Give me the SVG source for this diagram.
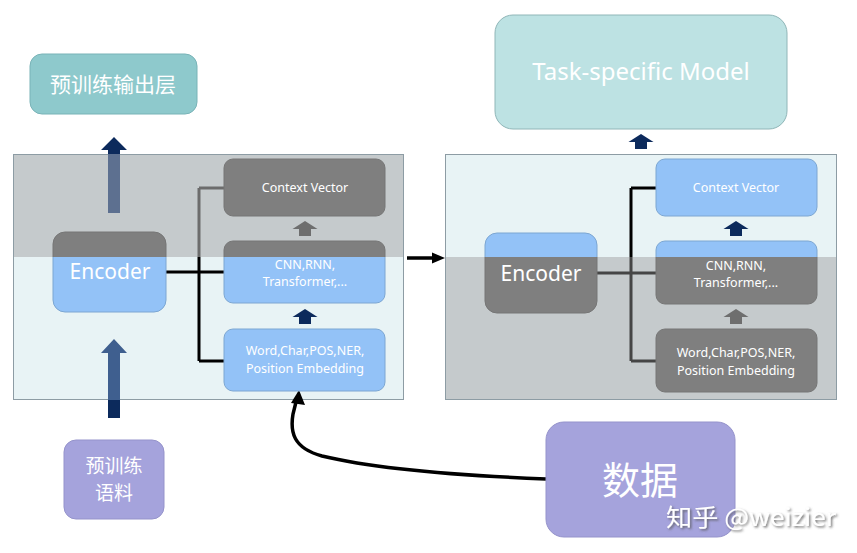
<svg xmlns="http://www.w3.org/2000/svg" width="857" height="553" viewBox="0 0 857 553">
<defs>
<style>
.t{font-family:"Noto Sans","Noto Sans CJK SC",sans-serif;fill:#ffffff;text-anchor:middle}
.cjk{font-family:"Noto Sans CJK SC","Noto Sans",sans-serif;fill:#ffffff;text-anchor:middle}
.s13{font-size:12.5px}
.bx{fill:#93c2f7;stroke:#7ca6d2;stroke-width:1}
.gx{fill:#7f7f7f;stroke:#767676;stroke-width:1}
.pl{fill:#e8f3f5}
.pg{fill:#c5cacc}
.pb{fill:none;stroke:#8d9ca4;stroke-width:1}
.navy{fill:#0c2a5c}
.ln{fill:none;stroke-width:3}
</style>
<clipPath id="up"><rect x="0" y="0" width="857" height="257"/></clipPath>
<clipPath id="dn"><rect x="0" y="257" width="857" height="296"/></clipPath>
<path id="sa" d="M0,0 L12.5,8 L6,8 L6,15 L-6,15 L-6,8 L-12.5,8 Z"/>
<path id="connL" d="M166,272 H224 M199,188 V361 M199,188 H224 M199,361 H224"/>
<path id="connR" d="M597,273 H656 M631,188 V361 M631,188 H656 M631,361 H656"/>
<linearGradient id="gTop" x1="0" y1="0" x2="0" y2="1">
<stop offset="0" stop-color="#0c2a5c"/><stop offset="1" stop-color="#0c2a5c"/>
</linearGradient>
<filter id="sh" x="-10%" y="-30%" width="130%" height="180%">
<feDropShadow dx="1.5" dy="1.5" stdDeviation="0.8" flood-color="#555" flood-opacity="0.8"/>
</filter>
</defs>
<rect x="0" y="0" width="857" height="553" fill="#ffffff"/>

<!-- panels -->
<g id="panel-left">
<rect class="pl" x="13" y="154" width="391" height="246"/>
<rect class="pg" x="13" y="154" width="391" height="103"/>
<rect class="pb" x="13.5" y="154.5" width="390" height="245"/>
</g>
<g id="panel-right">
<rect class="pl" x="445" y="154" width="392" height="246"/>
<rect class="pg" x="445" y="257" width="392" height="143"/>
<rect class="pb" x="445.5" y="154.5" width="391" height="245"/>
</g>

<!-- connectors -->
<g id="connectors">
<use href="#connL" class="ln" stroke="#000000" clip-path="url(#dn)"/>
<use href="#connL" class="ln" stroke="#6c6c6c" clip-path="url(#up)"/>
<use href="#connR" class="ln" stroke="#000000" clip-path="url(#up)"/>
<use href="#connR" class="ln" stroke="#454545" clip-path="url(#dn)"/>
<!-- big arrows left -->
<polygon class="navy" points="114,137 127,150 120,150 120,213 108,213 108,150 101,150"/>
<rect x="108" y="154" width="12" height="59" fill="#5d7090"/>
<polygon fill="#3f5f8f" points="114,339 127,353 120,353 120,418 108,418 108,353 101,353"/>
<rect class="navy" x="108" y="400" width="12" height="18"/>
<!-- small arrows -->
<use href="#sa" x="305" y="221" fill="#6e6e6e"/>
<use href="#sa" x="305" y="309" fill="#0c2a5c"/>
<use href="#sa" x="736" y="221" fill="#0c2a5c"/>
<use href="#sa" x="736" y="309" fill="#6e6e6e"/>
<use href="#sa" x="641" y="134" fill="#0c2a5c"/>
<!-- panel to panel -->
<line x1="407" y1="258" x2="433" y2="258" stroke="#000" stroke-width="3.5"/>
<polygon fill="#000" points="432,252.5 445,258 432,263.5"/>
<!-- data curve -->
<path d="M546,479 C470,476 380,470 322,456 C293,448 290,432 293,414 L296,402" fill="none" stroke="#000" stroke-width="3.5"/>
<polygon fill="#000" points="299,390 305,405 291,403"/>
</g>

<!-- top nodes -->
<g id="pretrain-output">
<rect x="30" y="54" width="167" height="60" rx="12" fill="#8ec9cc" stroke="#79b3b7"/>
<text class="cjk" x="113" y="92" font-size="21">预训练输出层</text>
</g>
<g id="task-model">
<rect x="495" y="15" width="292" height="114" rx="18" fill="#bde2e3" stroke="#90b6b8"/>
<text class="t" x="641" y="80" font-size="24">Task-specific Model</text>
</g>

<!-- left panel nodes -->
<g id="encoder-left">
<rect class="bx" x="53" y="232" width="113" height="80" rx="12" clip-path="url(#dn)"/>
<rect class="gx" x="53" y="232" width="113" height="80" rx="12" clip-path="url(#up)"/>
<text class="t" x="110" y="279" font-size="21">Encoder</text>
</g>
<g id="context-left">
<rect class="gx" x="224" y="159" width="161" height="57" rx="9"/>
<text class="t s13" x="305" y="192">Context Vector</text>
</g>
<g id="cnn-left">
<rect class="bx" x="224" y="241" width="161" height="62" rx="9" clip-path="url(#dn)"/>
<rect class="gx" x="224" y="241" width="161" height="62" rx="9" clip-path="url(#up)"/>
<text class="t s13" x="305" y="269">CNN,RNN,</text>
<text class="t s13" x="305" y="286">Transformer,...</text>
</g>
<g id="embed-left">
<rect class="bx" x="224" y="329" width="161" height="62" rx="9"/>
<text class="t s13" x="305" y="355">Word,Char,POS,NER,</text>
<text class="t s13" x="305" y="373">Position Embedding</text>
</g>

<!-- right panel nodes -->
<g id="encoder-right">
<rect class="bx" x="485" y="233" width="112" height="80" rx="12" clip-path="url(#up)"/>
<rect class="gx" x="485" y="233" width="112" height="80" rx="12" clip-path="url(#dn)"/>
<text class="t" x="541" y="281" font-size="21">Encoder</text>
</g>
<g id="context-right">
<rect class="bx" x="656" y="159" width="161" height="57" rx="9"/>
<text class="t s13" x="736" y="192">Context Vector</text>
</g>
<g id="cnn-right">
<rect class="bx" x="656" y="241" width="161" height="63" rx="9" clip-path="url(#up)"/>
<rect class="gx" x="656" y="241" width="161" height="63" rx="9" clip-path="url(#dn)"/>
<text class="t s13" x="736" y="270">CNN,RNN,</text>
<text class="t s13" x="736" y="287">Transformer,...</text>
</g>
<g id="embed-right">
<rect class="gx" x="656" y="329" width="161" height="63" rx="9"/>
<text class="t s13" x="736" y="357">Word,Char,POS,NER,</text>
<text class="t s13" x="736" y="375">Position Embedding</text>
</g>

<!-- bottom nodes -->
<g id="pretrain-corpus">
<rect x="64" y="440" width="100" height="79" rx="12" fill="#a5a3dc" stroke="#9593cb"/>
<text class="cjk" x="114" y="473" font-size="19">预训练</text>
<text class="cjk" x="114" y="500" font-size="19">语料</text>
</g>
<g id="data">
<rect x="546" y="422" width="189" height="115" rx="18" fill="#a5a3dc" stroke="#9593cb"/>
<text class="cjk" x="640" y="494" font-size="38">数据</text>
</g>

<text class="cjk" x="836" y="526" font-size="24" style="text-anchor:end" textLength="170" lengthAdjust="spacingAndGlyphs" filter="url(#sh)">知乎 @weizier</text>
</svg>
